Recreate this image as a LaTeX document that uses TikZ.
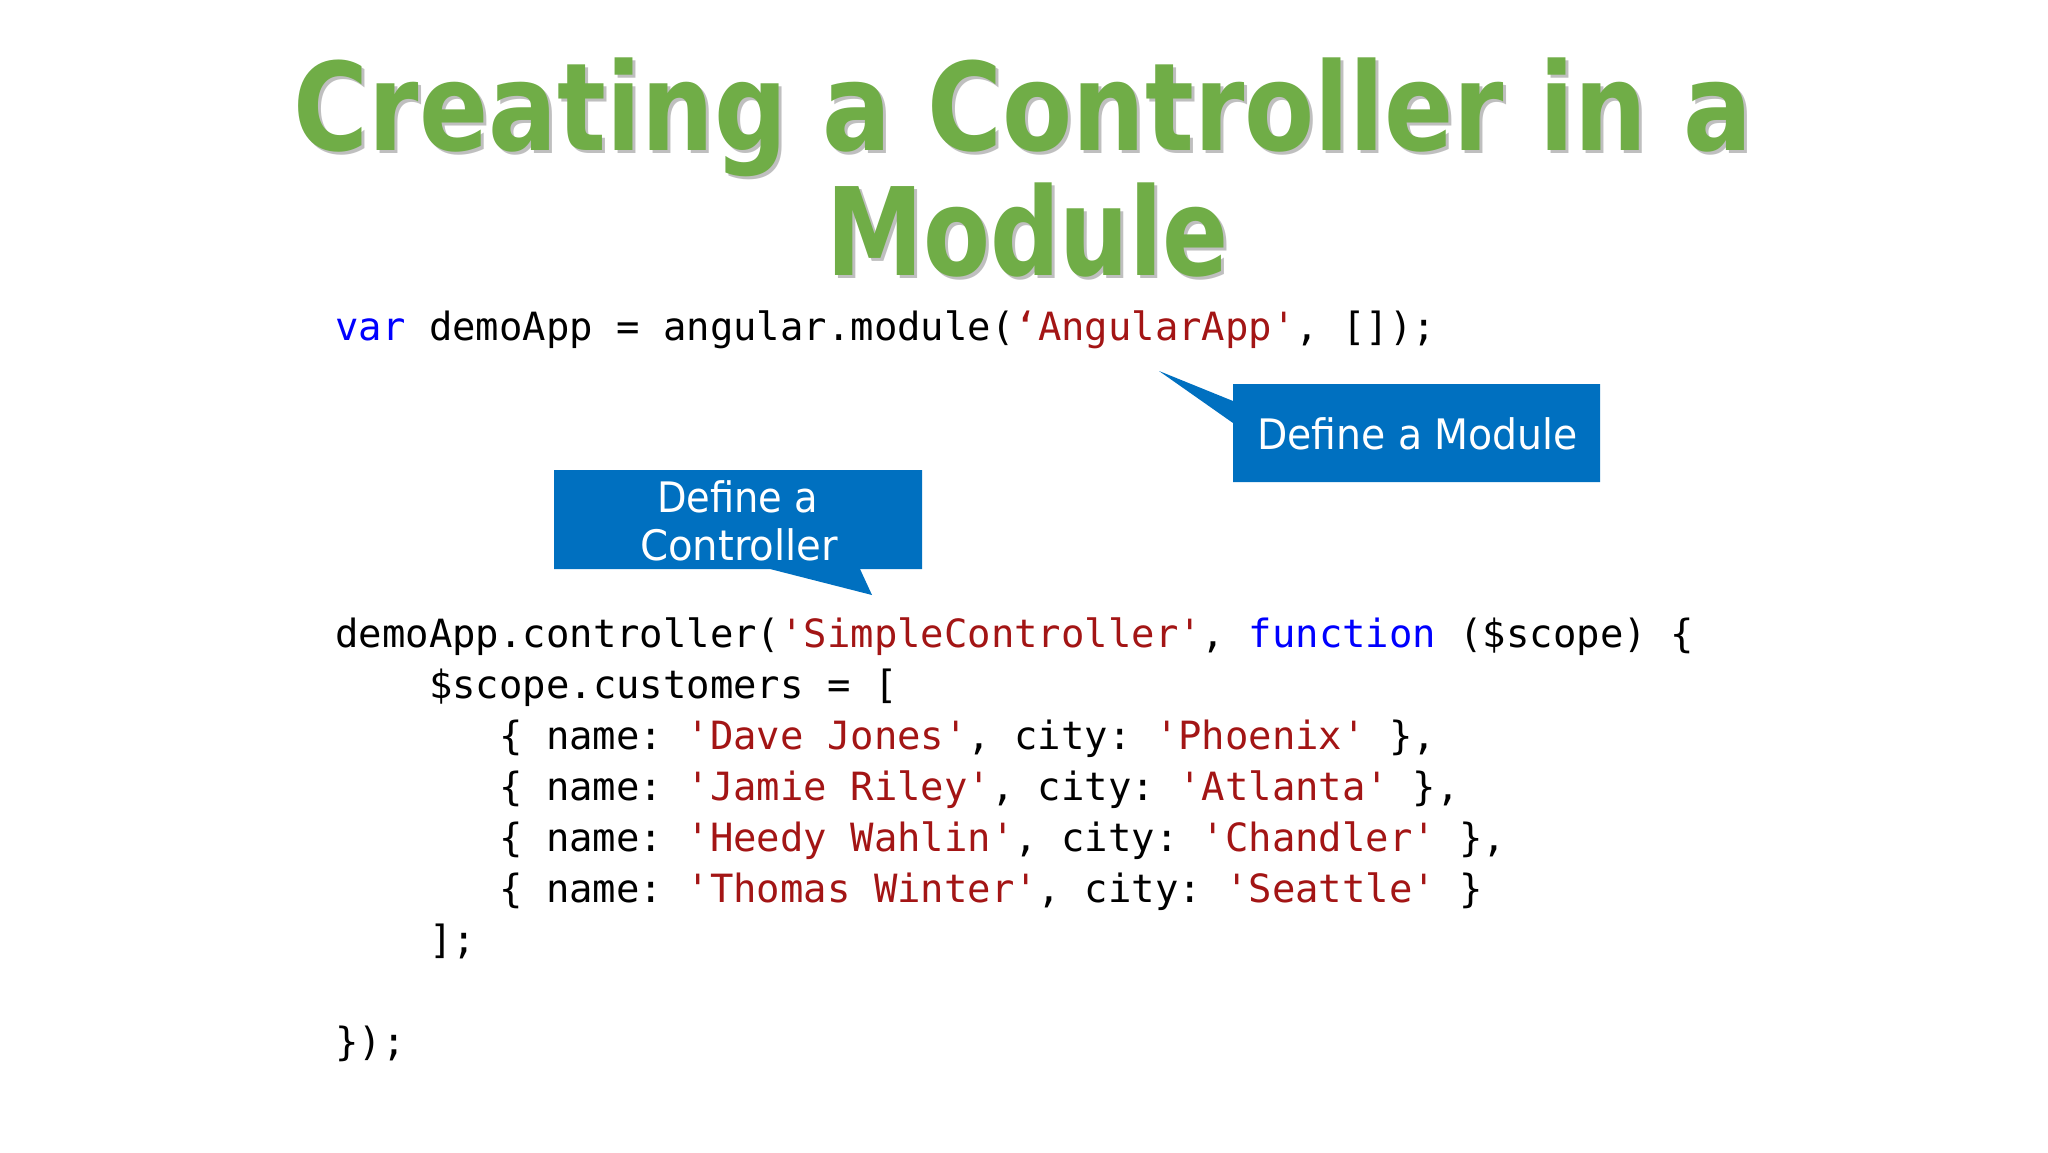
\documentclass[tikz,border=0pt]{standalone}
\usepackage{fontspec}
\usepackage{graphicx}
\setmainfont{DejaVu Sans}
\setmonofont{DejaVu Sans Mono}
\definecolor{titlegreen}{RGB}{112,173,71}
\definecolor{calloutblue}{RGB}{0,112,192}
\definecolor{kwblue}{RGB}{0,0,255}
\definecolor{strred}{RGB}{163,21,21}
\newcommand{\aq}{\char39\relax}
\newcommand{\kw}[1]{\textcolor{kwblue}{#1}}
\newcommand{\str}[1]{\textcolor{strred}{#1}}
\newcommand{\fitw}[2]{\resizebox{#1}{\height}{#2}}
\tikzset{
  titletext/.style={inner sep=0pt, anchor=base, font=\fontsize{61pt}{61pt}\selectfont\bfseries},
  codeline/.style={inner sep=0pt, anchor=base west, font=\fontsize{19.45pt}{20pt}\selectfont\ttfamily},
  callouttext/.style={inner sep=0pt, anchor=base, text=white, font=\fontsize{21pt}{21pt}\selectfont},
  callout/.style={fill=calloutblue, draw=none}
}
\begin{document}
\begin{tikzpicture}[x=0.5pt,y=-0.5pt]
\useasboundingbox[fill=white] (0,0) rectangle (2048,1152);
% title with shadow
\node[titletext, text=black!45, opacity=0.55] (t1s) at (1026,153) {\fitw{729pt}{Creating a Controller in a}};
\node[titletext, text=black!45, opacity=0.55] (t2s) at (1030.5,278) {\fitw{201.5pt}{Module}};
\node[titletext, text=titlegreen] (t1) at (1023,150) {\fitw{729pt}{Creating a Controller in a}};
\node[titletext, text=titlegreen] (t2) at (1027.5,275) {\fitw{201.5pt}{Module}};
% callouts
\path[callout] (1233,384) -- (1233,401) -- (1159,371) -- (1233,423) -- (1233,482) -- (1600,482) -- (1600,384) -- cycle;
\node[callouttext] (cm) at (1417.5,449) {\fitw{160.5pt}{Define a Module}};
\path[callout] (554,470) -- (922,470) -- (922,569) -- (860,569) -- (872,595) -- (770,569) -- (554,569) -- cycle;
\node[callouttext] (cc1) at (737.5,512) {\fitw{80.5pt}{Define a}};
\node[callouttext] (cc2) at (739,560) {\fitw{99pt}{Controller}};
% code
\node[codeline] (l0) at (335,340) {\kw{var} demoApp = angular.module(\str{‘AngularApp\aq}, []);};
\node[codeline] (l1) at (335,647) {demoApp.controller(\str{\aq SimpleController\aq}, \kw{function} (\$scope) \{};
\node[codeline] (l2) at (428.7,698) {\$scope.customers = [};
\node[codeline] (l3) at (498.9,749) {\{ name: \str{\aq Dave Jones\aq}, city: \str{\aq Phoenix\aq} \},};
\node[codeline] (l4) at (498.9,800) {\{ name: \str{\aq Jamie Riley\aq}, city: \str{\aq Atlanta\aq} \},};
\node[codeline] (l5) at (498.9,851) {\{ name: \str{\aq Heedy Wahlin\aq}, city: \str{\aq Chandler\aq} \},};
\node[codeline] (l6) at (498.9,902) {\{ name: \str{\aq Thomas Winter\aq}, city: \str{\aq Seattle\aq} \}};
\node[codeline] (l7) at (428.7,953) {];};
\node[codeline] (l8) at (335,1055) {\});};
\end{tikzpicture}
\end{document}
